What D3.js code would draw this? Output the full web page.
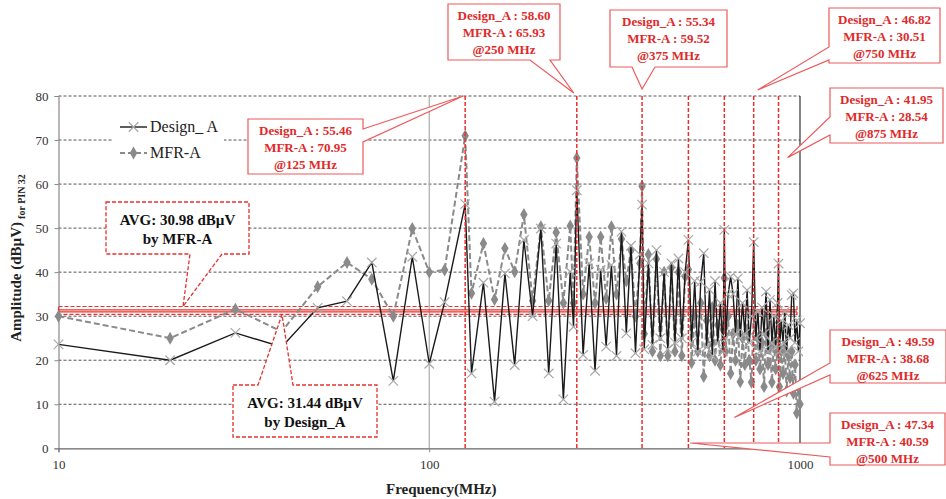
<!DOCTYPE html>
<html><head><meta charset="utf-8">
<script src="https://cdn.jsdelivr.net/npm/d3@7"></script>
<style>body{margin:0;background:#fff}</style>
</head><body><svg id="chart" width="946" height="499"></svg>
<script>
// Measured emission spectrum, amplitude in dBµV for PIN 32
const freqs = [10,20,30,40,50,60,70,80,90,100,110,125,130,140,150,160,170,180,190,200,210,220,230,240,245,250,260,270,280,290,300,310,320,330,340,350,360,370,375,380,390,400,410,420,430,440,450,460,470,480,490,500,510,520,530,540,550,560,570,580,590,600,610,620,625,630,640,650,660,670,680,690,700,710,720,730,740,750,760,770,780,790,800,810,820,830,840,850,860,870,875,880,890,900,910,920,930,940,950,960,970,980,990,1000];
const designA = [23.6,20.0,26.2,23.0,31.9,33.4,42.2,15.3,43.5,19.2,33.2,55.46,17.0,37.6,10.6,39.7,18.9,47.3,30.0,49.9,17.0,46.5,11.1,40.1,27.6,58.60,21.2,42.0,17.6,40.5,23.1,41.6,21.0,49.2,26.1,46.0,21.6,44.0,55.34,22.5,42.0,23.5,45.0,25.0,40.0,22.5,42.0,24.0,43.1,25.0,40.0,47.34,24.0,38.0,22.0,37.8,44.3,23.0,36.0,21.0,38.0,24.0,33.0,22.0,49.59,25.0,35.0,39.0,35.0,26.0,38.6,25.0,33.0,26.0,35.9,24.0,30.0,46.82,25.0,31.0,22.0,32.0,26.0,35.6,22.0,33.7,24.0,30.0,23.0,33.0,41.95,22.0,29.0,24.0,31.0,22.0,28.0,25.0,34.8,35.2,24.0,29.0,22.0,28.4];
const mfrA = [30.0,25.0,31.6,26.5,36.7,42.2,38.4,30.0,49.9,40.0,40.5,70.95,35.2,46.5,33.8,45.4,40.1,53.1,33.5,50.3,33.5,49.0,33.0,50.5,33.0,65.93,35.0,48.0,33.0,48.0,34.0,50.3,35.0,47.5,38.0,45.0,30.0,42.0,59.52,26.0,44.0,22.0,43.0,21.0,40.0,21.0,41.0,22.0,40.0,21.0,39.0,40.59,19.4,30.0,22.0,33.0,16.3,29.0,21.0,32.0,20.0,28.0,18.9,27.0,38.68,22.0,30.0,17.0,26.0,20.0,28.0,15.1,25.0,19.0,27.0,20.0,15.0,30.51,20.0,25.0,18.0,24.0,14.0,26.0,19.0,23.0,15.0,24.0,18.0,22.0,28.54,14.0,22.0,17.0,23.0,13.0,21.0,16.0,22.0,12.5,19.0,8.0,14.0,10.0];
const legendLabels = ["Design_ A","MFR-A"];
const yTicks = [0,10,20,30,40,50,60,70,80];
const xTicks = [10,100,1000];
const harmonics = [125,250,375,500,625,750,875];
const avgDesignA = 31.44;
const avgMfrA = 30.98;

const svg = d3.select("#chart");
const serif = "'Liberation Serif','Times New Roman',serif";
const x = d3.scaleLog().domain([10,1000]).range([58.5,800]);
const y = d3.scaleLinear().domain([0,80]).range([448.3,96]);
const red = "#e5322f";

// horizontal grid
svg.append("g").selectAll("line").data(yTicks.filter(t=>t>0)).join("line")
  .attr("x1",x(10)).attr("x2",x(1000)).attr("y1",d=>y(d)).attr("y2",d=>y(d))
  .attr("stroke","#555").attr("stroke-width",1).attr("stroke-dasharray","3,2");
// vertical decade grid
svg.append("g").selectAll("line").data([100]).join("line")
  .attr("x1",d=>x(d)).attr("x2",d=>x(d)).attr("y1",y(0)).attr("y2",y(80))
  .attr("stroke","#aaa").attr("stroke-width",1.2);
svg.append("line").attr("x1",x(1000)).attr("x2",x(1000)).attr("y1",y(0)).attr("y2",y(80))
  .attr("stroke","#333").attr("stroke-width",1.2);

// axes
const yAxis = d3.axisLeft(y).tickValues(yTicks).tickSize(4).tickFormat(d3.format("d"));
const gy = svg.append("g").attr("transform",`translate(${x(10)},0)`).call(yAxis);
gy.select(".domain").attr("stroke","#888").attr("stroke-width",1.2);
gy.selectAll(".tick line").attr("stroke","#888");
gy.selectAll("text").attr("font-family",serif).attr("font-size",13).attr("fill","#333").attr("x",-10);
const xAxis = d3.axisBottom(x).tickValues(xTicks).tickSize(4).tickFormat(d3.format("d"));
const gx = svg.append("g").attr("transform",`translate(0,${y(0)})`).call(xAxis);
gx.select(".domain").attr("stroke","#666").attr("stroke-width",1.2);
gx.selectAll(".tick line").attr("stroke","#888");
gx.selectAll("text").attr("font-family",serif).attr("font-size",13).attr("fill","#333").attr("y",11);

// average band
const band = svg.append("g");
band.append("rect").attr("x",x(10)).attr("y",y(32.2)).attr("width",797-x(10)).attr("height",y(30.4)-y(32.2))
  .attr("fill","none").attr("stroke",red).attr("stroke-width",1.2).attr("stroke-dasharray","4,2");
band.selectAll("line.avg").data([avgDesignA,avgMfrA]).join("line").attr("class","avg")
  .attr("x1",x(10)).attr("x2",797).attr("y1",d=>y(d)).attr("y2",d=>y(d))
  .attr("stroke",red).attr("stroke-width",1.3);

// series
const pts = (vals)=>freqs.map((f,i)=>[f,vals[i]]);
const line = d3.line().x(d=>x(d[0])).y(d=>y(d[1]));
svg.append("path").datum(pts(mfrA)).attr("d",line).attr("fill","none")
  .attr("stroke","#8a8a8a").attr("stroke-width",2).attr("stroke-dasharray","6,3");
svg.append("g").selectAll("path").data(pts(mfrA)).join("path")
  .attr("d",d3.symbol(d3.symbolDiamond,48))
  .attr("transform",d=>`translate(${x(d[0])},${y(d[1])})`).attr("fill","#8a8a8a");
svg.append("path").datum(pts(designA)).attr("d",line).attr("fill","none")
  .attr("stroke","#1a1a1a").attr("stroke-width",1.4);
svg.append("g").selectAll("path").data(pts(designA)).join("path")
  .attr("d",d3.symbol(d3.symbolTimes,60))
  .attr("transform",d=>`translate(${x(d[0])},${y(d[1])})`).attr("fill","none")
  .attr("stroke","#a8a8a8").attr("stroke-width",1.2);

// harmonic markers
svg.append("g").selectAll("line").data(harmonics).join("line")
  .attr("x1",d=>x(d)).attr("x2",d=>x(d)).attr("y1",y(80)).attr("y2",y(0))
  .attr("stroke",red).attr("stroke-width",1.5).attr("stroke-dasharray","4,2");

// legend
const lg = svg.append("g");
lg.append("rect").attr("x",112).attr("y",110).attr("width",112).attr("height",58).attr("fill","#fff");
legendLabels.forEach((name,i)=>{
  const ly = 127 + i*26;
  const l = lg.append("line").attr("x1",120).attr("x2",147).attr("y1",ly).attr("y2",ly);
  if(i===0){
    l.attr("stroke","#1a1a1a").attr("stroke-width",1.4);
    lg.append("path").attr("d",d3.symbol(d3.symbolTimes,60)).attr("transform",`translate(133.5,${ly})`)
      .attr("fill","none").attr("stroke","#a8a8a8").attr("stroke-width",1.2);
  } else {
    l.attr("stroke","#8a8a8a").attr("stroke-width",2).attr("stroke-dasharray","5,3");
    lg.append("path").attr("d",d3.symbol(d3.symbolDiamond,48)).attr("transform",`translate(133.5,${ly})`).attr("fill","#8a8a8a");
  }
  lg.append("text").attr("x",150).attr("y",ly+5).text(name)
    .attr("font-family",serif).attr("font-size",16).attr("fill","#222");
});

// axis titles
svg.append("text").attr("x",x(100)+12).attr("y",494).attr("text-anchor","middle")
  .attr("font-family",serif).attr("font-weight","bold").attr("font-size",15).attr("fill","#222")
  .text("Frequency(MHz)");
const yt = svg.append("text").attr("transform","translate(21,258) rotate(-90)").attr("text-anchor","middle")
  .attr("font-family",serif).attr("font-weight","bold").attr("fill","#222");
yt.append("tspan").attr("font-size",15).text("Amplitude  (dBµV)");
yt.append("tspan").attr("font-size",10).attr("dy",4).attr("dx",3).text("for PIN 32");

// callouts: a box with a wedge pointing at the marked spot
function calloutPath(b, w){
  const [x0,y0,x1,y1] = b; const p = [];
  p.push([x0,y0]);
  if(w.side==="top"){ p.push([w.a,y0],w.tip,[w.b,y0]); }
  p.push([x1,y0]);
  if(w.side==="right"){ p.push([x1,w.a],w.tip,[x1,w.b]); }
  p.push([x1,y1]);
  if(w.side==="bottom"){ p.push([w.b,y1],w.tip,[w.a,y1]); }
  p.push([x0,y1]);
  if(w.side==="left"){ p.push([x0,w.b],w.tip,[x0,w.a]); }
  return "M"+p.map(q=>q.join(",")).join("L")+"Z";
}
const valAt = (arr,f)=>arr[freqs.indexOf(f)].toFixed(2);
const peakCallouts = [
  {f:125, box:[248,119,363,174], w:{side:"right",a:129,b:142,tip:[x(125)-2,y(80)]}},
  {f:250, box:[448,4,560,60],   w:{side:"bottom",a:530,b:550,tip:[x(250)-3,y(80)-3]}},
  {f:375, box:[610,10,727,67],  w:{side:"bottom",a:632,b:655,tip:[x(375),y(80)-7]}},
  {f:750, box:[829,8,940,63],   w:{side:"left",a:47,b:60,tip:[x(750)+4,y(80)-6]}},
  {f:875, box:[830,88,943,143], w:{side:"left",a:117,b:135,tip:[x(875)+9,y(66)]}},
  {f:625, box:[830,330,946,383],w:{side:"left",a:363,b:375,tip:[x(625)+10,y(7)]}},
  {f:500, box:[830,413,945,465],w:{side:"left",a:443,b:457,tip:[x(500)+2,y(1.2)]}}
];
const cg = svg.append("g");
peakCallouts.forEach(c=>{
  cg.append("path").attr("d",calloutPath(c.box,c.w)).attr("fill","#fff")
    .attr("stroke","#ec5a5a").attr("stroke-width",1.2);
  const cx = (c.box[0]+c.box[2])/2, ty = c.box[1];
  const lines = [`Design_A : ${valAt(designA,c.f)}`,`MFR-A : ${valAt(mfrA,c.f)}`,`@${c.f} MHz`];
  lines.forEach((t,i)=>cg.append("text").attr("x",cx).attr("y",ty+16+i*17).attr("text-anchor","middle")
    .attr("font-family",serif).attr("font-weight","bold").attr("font-size",13).attr("fill","#e02a2a").text(t));
});
const avgCallouts = [
  {v:avgMfrA, who:"MFR-A", box:[106,202,249,254], w:{side:"bottom",a:190,b:222,tip:[183,y(32.2)]}},
  {v:avgDesignA, who:"Design_A", box:[233,385,377,437], w:{side:"top",a:258,b:293,tip:[282,y(30.4)]}}
];
avgCallouts.forEach(c=>{
  cg.append("path").attr("d",calloutPath(c.box,c.w)).attr("fill","#fff")
    .attr("stroke",red).attr("stroke-width",1.3).attr("stroke-dasharray","4,2");
  const cx = (c.box[0]+c.box[2])/2, ty = c.box[1];
  [`AVG: ${c.v.toFixed(2)} dBµV`,`by ${c.who}`].forEach((t,i)=>cg.append("text").attr("x",cx).attr("y",ty+23+i*19)
    .attr("text-anchor","middle").attr("font-family",serif).attr("font-weight","bold").attr("font-size",15)
    .attr("fill","#111").text(t));
});
</script></body></html>
